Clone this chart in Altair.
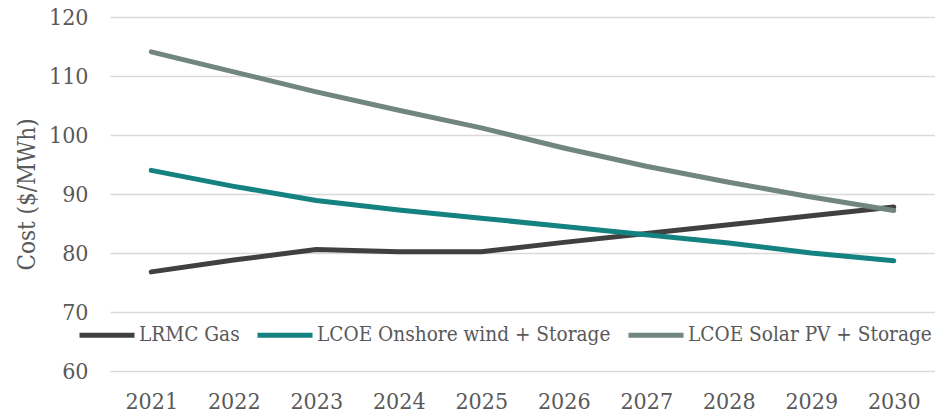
import altair as alt
import pandas as pd

years = [str(y) for y in range(2021, 2031)]
gas = [76.8, 78.8, 80.6, 80.2, 80.2, 81.8, 83.3, 84.8, 86.3, 87.8]
wind = [94.0, 91.3, 88.9, 87.3, 85.9, 84.5, 83.1, 81.7, 80.0, 78.7]
solar = [114.1, 110.7, 107.3, 104.2, 101.2, 97.8, 94.7, 92.0, 89.5, 87.2]

series_names = ["LRMC Gas", "LCOE Onshore wind + Storage", "LCOE Solar PV + Storage"]
series_colors = ["#404040", "#138280", "#71867f"]

rows = []
for name, vals in zip(series_names, [gas, wind, solar]):
    for yr, v in zip(years, vals):
        rows.append({"Year": yr, "Cost": v, "Series": name})
df = pd.DataFrame(rows)

FONT = "DejaVu Serif Condensed"
TXT = "#595959"

chart = alt.Chart(df).mark_line(strokeWidth=5, strokeCap="round", strokeJoin="round").encode(
    x=alt.X("Year:N", sort=years, title=None,
            scale=alt.Scale(paddingInner=0, paddingOuter=0.5),
            axis=alt.Axis(labelAngle=0, domain=False, ticks=False, grid=False,
                          labelFontSize=23, labelPadding=19, labelColor=TXT, labelFont=FONT)),
    y=alt.Y("Cost:Q", title="Cost ($/MWh)",
            scale=alt.Scale(domain=[60, 120], nice=False, zero=False),
            axis=alt.Axis(values=[60, 70, 80, 90, 100, 110, 120], domain=False, ticks=False,
                          gridColor="#d9d9d9", gridWidth=1.5,
                          labelFontSize=23, labelPadding=22, labelColor=TXT, labelFont=FONT,
                          titleFontSize=24, titleFontWeight="normal", titleColor=TXT,
                          titleFont=FONT, titlePadding=9)),
    color=alt.Color("Series:N", sort=series_names,
                    scale=alt.Scale(domain=series_names, range=series_colors),
                    legend=alt.Legend(title=None, orient="none", direction="horizontal",
                                      legendX=-33, legendY=288,
                                      symbolType="stroke", symbolSize=3025,
                                      symbolStrokeWidth=5, labelFontSize=20.6,
                                      labelFont=FONT, labelColor=TXT, labelOffset=2,
                                      labelLimit=0, columnPadding=7)),
).properties(
    width=825, height=354,
    autosize=alt.AutoSizeParams(type="none"),
    padding={"left": 110, "top": 17, "right": 0, "bottom": 43},
).configure_view(stroke=None)

chart.save("out.html", embed_options={"renderer": "svg", "actions": False})
